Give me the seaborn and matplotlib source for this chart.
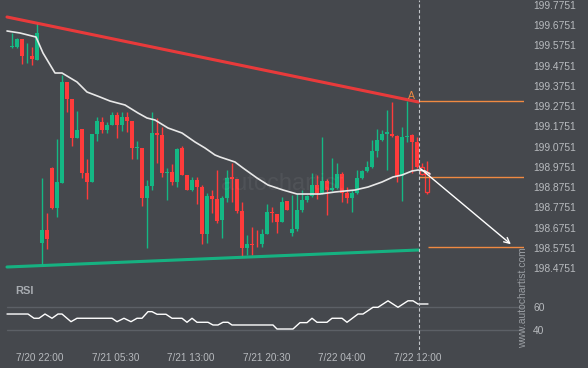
import matplotlib
matplotlib.use("Agg")
import matplotlib.pyplot as plt
import seaborn as sns
import numpy as np

# ---------------- data ----------------
opens = [199.5699, 199.5690, 199.6055, 199.5255, 199.5230, 199.5032, 198.5986, 198.6629, 198.9693, 198.7716,
         198.8952, 199.3945, 199.3104, 199.1176, 199.1621, 198.9446, 198.9001, 199.1374, 199.1967, 199.1572,
         199.1819, 199.2313, 199.1819, 199.2214, 199.2017, 199.0682, 199.0682, 198.8210, 198.8804, 199.1424,
         199.1325, 198.9446, 198.9496, 198.9001, 199.0682, 198.9347, 198.8606, 198.9100, 198.8754, 198.6431,
         198.8309, 198.8161, 198.7123, 198.8210, 198.9249, 198.9150, 198.7568, 198.5739, 198.5937, 198.5937,
         198.5937, 198.6431, 198.7518, 198.7420, 198.7024, 198.8062, 198.6480, 198.6678, 198.7617, 198.8112,
         198.8309, 198.8853, 198.8458, 198.9051, 198.8606, 198.8705, 198.9397, 198.8458, 198.8210, 198.8458,
         198.9199, 198.9545, 198.9743, 199.0534, 199.1078, 199.1374, 199.1374, 199.1275, 198.9298, 199.1226,
         199.1325, 199.0979, 198.9743, 198.9496]
highs = [199.6367, 199.6120, 199.6070, 199.5872, 199.5675, 199.6861, 198.9199, 198.7469, 198.9743, 199.1127,
         199.4291, 199.3945, 199.3104, 199.2511, 199.1621, 199.0138, 199.1374, 199.2214, 199.2214, 199.1967,
         199.2462, 199.2462, 199.2462, 199.2462, 199.2017, 199.1028, 199.0682, 198.9100, 199.2462, 199.2165,
         199.1720, 198.9693, 198.9891, 199.0682, 199.0781, 198.9347, 198.9249, 198.9249, 198.8853, 198.8458,
         198.8606, 198.9595, 198.8309, 198.9595, 198.9941, 198.9150, 198.8013, 198.6381, 198.6777, 198.6629,
         198.6678, 198.7914, 198.7766, 198.7420, 198.8260, 198.8062, 198.8359, 198.8408, 198.8606, 198.8359,
         198.9446, 198.9347, 199.1226, 198.9150, 199.0188, 198.9941, 198.9496, 198.8754, 198.8606, 198.9595,
         198.9595, 199.0039, 199.1078, 199.1621, 199.1572, 199.2560, 199.2956, 199.1325, 199.1720, 199.3005,
         199.1374, 199.1226, 198.9941, 199.0039]
lows = [199.5625, 199.5625, 199.4834, 199.4884, 199.4785, 199.5032, 198.4899, 198.5689, 198.7667, 198.7271,
        198.8952, 199.2462, 199.0781, 199.1176, 198.9199, 198.8161, 198.9001, 199.1028, 199.1424, 199.1424,
        199.1819, 199.1176, 199.1522, 199.1473, 199.0138, 199.0138, 198.7815, 198.5739, 198.8606, 198.9941,
        198.9249, 198.8112, 198.8853, 198.8754, 198.9347, 198.8606, 198.8556, 198.7914, 198.5937, 198.5986,
        198.7469, 198.6975, 198.6233, 198.8013, 198.8013, 198.7469, 198.5294, 198.5393, 198.5393, 198.5788,
        198.5788, 198.6431, 198.7024, 198.6480, 198.7024, 198.7617, 198.6332, 198.6579, 198.7518, 198.8013,
        198.8260, 198.8161, 198.8408, 198.7370, 198.8556, 198.8655, 198.8013, 198.7963, 198.7518, 198.8408,
        198.9150, 198.9496, 198.9693, 199.0237, 199.1028, 198.9595, 199.1226, 198.9001, 198.8062, 199.0979,
        198.9446, 198.9693, 198.9347, 198.8408]
closes = [199.5724, 199.6055, 199.5245, 199.5279, 199.5082, 199.6367, 198.6629, 198.6184, 198.7716, 198.9001,
          199.3945, 199.3104, 199.1176, 199.1572, 198.9446, 198.9001, 199.1374, 199.2017, 199.1572, 199.1819,
          199.2313, 199.1819, 199.2214, 199.2017, 199.0682, 199.0732, 198.8210, 198.8804, 199.1424, 199.1325,
          198.9446, 198.9496, 198.9001, 199.0633, 198.9347, 198.8606, 198.9100, 198.8754, 198.6431, 198.8309,
          198.8161, 198.7074, 198.8210, 198.9199, 198.9150, 198.7568, 198.5739, 198.5937, 198.5887, 198.5912,
          198.6431, 198.7518, 198.7469, 198.7024, 198.8013, 198.7617, 198.6678, 198.7617, 198.8112, 198.8309,
          198.8853, 198.8458, 198.9051, 198.8606, 198.8705, 198.9397, 198.8458, 198.8210, 198.8458, 198.9199,
          198.9545, 198.9743, 199.0534, 199.1078, 199.1374, 199.1473, 199.1275, 198.9298, 199.1226, 199.1275,
          199.0979, 198.9743, 198.9397, 198.8507]
n_projected = 2  # last candles drawn hollow (after pattern end)

ma_idx = [-0.9, 1.7, 4.1, 4.9, 6.3, 8.7, 10.1, 13.1, 15.1, 17.7, 19.7, 22.7, 25.3, 27.1, 28.7, 31.3,
          34.1, 36.7, 38.7, 40.7, 41.7, 44.7, 46.3, 49.1, 51.3, 54.3, 57.1, 61.7, 64.7, 68.7, 71.3,
          74.1, 76.3, 78.1, 80.1, 81.3, 82.7, 83.7]
ma_val = [199.6466, 199.6367, 199.6218, 199.6169, 199.5378, 199.4389, 199.4389, 199.3945, 199.3450,
          199.3203, 199.3005, 199.2808, 199.2412, 199.2165, 199.2066, 199.1671, 199.1424, 199.0979,
          199.0682, 199.0336, 199.0237, 198.9990, 198.9693, 198.9199, 198.8853, 198.8606, 198.8408,
          198.8408, 198.8507, 198.8606, 198.8754, 198.9001, 198.9249, 198.9347, 198.9545, 198.9595,
          198.9545, 198.9397]

rsi_idx = [-0.9, 3.3, 4.5, 5.5, 6.7, 8.1, 9.3, 10.1, 11.9, 13.1, 20.1, 21.1, 22.5, 23.9, 25.1, 26.1,
           27.3, 28.1, 29.1, 30.9, 32.1, 34.1, 35.1, 36.1, 37.1, 39.3, 40.3, 41.3, 42.3, 43.3, 44.1,
           52.3, 53.1, 56.3, 57.7, 59.1, 60.1, 61.1, 63.1, 64.1, 66.1, 67.1, 69.3, 70.3, 72.3, 73.3,
           75.3, 77.3, 79.3, 80.3, 81.3, 83.3]
rsi_val = [53.8, 53.8, 50.2, 50.2, 53.8, 50.2, 53.8, 53.8, 47.3, 50.2, 50.2, 47.3, 50.2, 47.3, 50.2, 50.2,
           55.8, 55.8, 53.6, 53.6, 50.2, 50.2, 46.8, 50.2, 46.8, 46.8, 44.5, 44.5, 46.8, 46.8, 44.5,
           44.5, 41.1, 41.1, 46.5, 46.5, 50.2, 46.8, 46.8, 50.2, 50.2, 46.8, 53.8, 53.8, 59.5, 59.5,
           65.0, 59.5, 65.0, 65.0, 62.3, 62.3]

price_ticks = [199.7751, 199.6751, 199.5751, 199.4751, 199.3751, 199.2751, 199.1751,
               199.0751, 198.9751, 198.8751, 198.7751, 198.6751, 198.5751, 198.4751]
rsi_ticks = [60, 40]
time_labels = ["7/20 22:00", "7/21 05:30", "7/21 13:00", "7/21 20:30", "7/22 04:00", "7/22 12:00"]

resistance_idx = [-0.9, 81.4]
resistance_val = [199.7158, 199.2956]
support_idx = [-0.9, 81.4]
support_val = [198.4800, 198.5640]
pattern_end = 81.4
level_A = 199.3005
level_entry = 198.9249
level_target = 198.5803
target_start = 83.3
arrow_from = (81.4, 198.9743)
arrow_to = (100.3, 198.5837)
label_A = (79.9, 199.3252)

# ---------------- style ----------------
BG = "#45484d"
GREEN = "#14b884"
RED = "#ff3b3b"
RLINE = "#f23a3a"
ORANGE = "#f08a42"
LABEL = "#b7babe"
GRID = "#5c6066"

sns.set_theme(style="dark", rc={"axes.facecolor": BG, "figure.facecolor": BG})
plt.rcParams["font.family"] = ["Liberation Sans", "DejaVu Sans"]

W, H = 588, 368
fig = plt.figure(figsize=(W / 100, H / 100), dpi=100)
fig.patch.set_facecolor(BG)
ax = fig.add_axes([0, 83 / H, 524 / W, 285 / H])
axr = fig.add_axes([0, 18 / H, 524 / W, 65 / H])
XL = (-2.3, 102.5)

for a in (ax, axr):
    a.set_facecolor(BG)
    a.set_xlim(*XL)
    for s in a.spines.values():
        s.set_visible(False)
    a.grid(False)

# watermark
fig.text(282 / W, 1 - 184 / H, "autochartist", color="white", alpha=0.06,
         fontsize=17, ha="center", va="center", zorder=0)

# candles
idx = np.arange(len(opens))
o = np.array(opens); c = np.array(closes); h = np.array(highs); l = np.array(lows)
up = c >= o
cols = np.where(up, GREEN, RED)
proj = idx >= len(opens) - n_projected
ax.vlines(idx, l, h, colors=cols, lw=1, zorder=2)
bottoms = np.minimum(o, c)
heights = np.maximum(np.abs(c - o), 0.004)
ax.bar(idx[~proj], heights[~proj], bottom=bottoms[~proj], width=0.8,
       color=cols[~proj], lw=0, zorder=3)
ax.bar(idx[proj], heights[proj], bottom=bottoms[proj], width=0.8,
       facecolor=BG, edgecolor=RED, lw=0.9, zorder=3)

# moving average
sns.lineplot(x=ma_idx, y=ma_val, ax=ax, color="#e8e8e8", lw=1.2, zorder=4)

# trend lines
sns.lineplot(x=resistance_idx, y=resistance_val, ax=ax, color=RLINE, lw=2.2, alpha=0.95, zorder=5)
sns.lineplot(x=support_idx, y=support_val, ax=ax, color=GREEN, lw=2.2, alpha=0.95, zorder=5)

# levels
ax.hlines([level_A, level_entry], pattern_end, XL[1], colors=ORANGE, lw=1, zorder=4)
ax.hlines(level_target, target_start, XL[1], colors=ORANGE, lw=1, zorder=4)
ax.text(*label_A, "A", color=ORANGE, fontsize=7.5, ha="center", va="center", zorder=6)
ax.annotate("", xy=arrow_to, xytext=arrow_from,
            arrowprops=dict(arrowstyle="->", color="white", lw=1, mutation_scale=10), zorder=6)

# vertical dashed line
for a in (ax, axr):
    a.axvline(pattern_end, color="#c4c7cb", lw=0.8, ls=(0, (3, 2)), zorder=6)

ax.set_ylim(198.3910, 199.7998)
ax.yaxis.tick_right()
ax.set_yticks(price_ticks)
ax.set_yticklabels([f"{v:.4f}" for v in price_ticks])
ax.tick_params(axis="y", length=0, pad=6.5, labelsize=7.4, labelcolor=LABEL)
ax.tick_params(axis="x", bottom=False, labelbottom=False)
ax.set_xlabel(""); ax.set_ylabel("")

# RSI panel
axr.set_ylim(23.3, 78.4)
for v in rsi_ticks:
    axr.axhline(v, xmin=7 / 524, xmax=1, color=GRID, lw=1, zorder=1)
sns.lineplot(x=rsi_idx, y=rsi_val, ax=axr, color="white", lw=1, zorder=3)
axr.yaxis.tick_right()
axr.set_yticks(rsi_ticks)
axr.set_yticklabels([str(v) for v in rsi_ticks])
axr.tick_params(axis="y", length=0, pad=6.5, labelsize=7.4, labelcolor=LABEL)
first_tick, step = 5.7, 15.1
axr.set_xticks([first_tick + step * k for k in range(len(time_labels))])
axr.set_xticklabels(time_labels)
axr.tick_params(axis="x", length=0, pad=2.5, labelsize=7.2, labelcolor=LABEL)
axr.set_xlabel(""); axr.set_ylabel("")
axr.text(15 / 524, 0.905, "RSI", transform=axr.transAxes, color="#a8acb1",
         fontsize=8, fontweight="bold", ha="left", va="center")

fig.text(523.5 / W, 1 - 298 / H, "www.autochartist.com", rotation=90, color="#9a9ea3",
         fontsize=7.5, ha="center", va="center")

fig.savefig("out.png", dpi=100, facecolor=BG)
